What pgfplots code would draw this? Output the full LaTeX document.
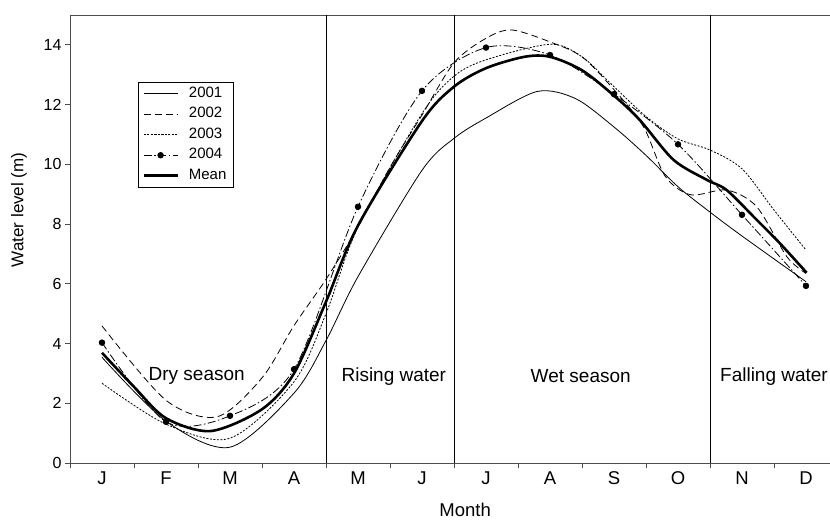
\documentclass[border=0pt]{standalone}
\usepackage{fontspec}
\setmainfont{Liberation Sans}
\usepackage{pgfplots}
\pgfplotsset{compat=1.18}
\usepackage{pgfplotstable}

% water level (m), x = month (0 = start of January)
\pgfplotstableread{
x y
0.5 3.54
1.5 1.40
2.5 0.53
3.5 2.34
4.0 4.10
4.5 6.24
5.5 9.80
6.0 10.87
6.5 11.55
7.3 12.44
7.9 12.20
8.5 11.25
9.0 10.30
9.5 9.25
10.0 8.40
10.5 7.60
11.5 6.07
}\yra
\pgfplotstableread{
x y
0.5 4.59
1.5 2.10
2.3 1.55
3.0 2.85
3.5 4.60
4.0 6.15
4.5 7.90
5.0 9.90
5.5 11.65
6.0 13.40
6.5 14.22
6.9 14.50
7.5 14.10
8.0 13.60
8.5 12.50
8.96 11.26
9.3 9.60
9.7 8.98
10.26 9.14
10.73 8.58
11.2 6.91
11.5 6.35
}\yrb
\pgfplotstableread{
x y
0.5 2.67
1.5 1.30
2.5 0.83
3.5 2.72
4.0 5.00
4.5 7.90
5.5 11.70
6.0 12.95
6.5 13.50
7.5 14.02
8.0 13.60
8.5 12.60
9.0 11.60
9.5 10.85
10.0 10.48
10.5 9.85
11.0 8.47
11.5 7.13
}\yrc
\pgfplotstableread{
x y
0.5 4.03
1.5 1.38
2.5 1.58
3.5 3.14
4.5 8.58
5.5 12.46
6.5 13.91
7.5 13.66
8.5 12.35
9.5 10.67
10.5 8.31
11.5 5.93
}\yrd
\pgfplotstableread{
x y
0.5 3.69
1.0 2.55
1.5 1.50
2.2 1.07
3.0 1.80
3.5 3.00
4.0 5.40
4.5 7.95
5.5 11.45
6.0 12.60
6.5 13.22
7.1 13.60
7.5 13.60
8.0 13.15
8.5 12.30
8.9 11.49
9.43 10.15
9.95 9.48
10.26 9.14
10.73 8.14
11.09 7.36
11.51 6.37
}\mean

\begin{document}
\begin{tikzpicture}
\useasboundingbox (-70pt,-60pt) rectangle (760pt,463pt);
\begin{axis}[
    scale only axis,
    width=760pt, height=448pt,
    xmin=0, xmax=11.875,
    ymin=0, ymax=15,
    axis y line*=left,
    axis line style={black!70, line width=0.8pt},
    tick align=outside,
    xtick pos=left, ytick pos=left,
    xtick={0.5,1.5,...,11.5},
    xticklabels={J,F,M,A,M,J,J,A,S,O,N,D},
    minor xtick={0,1,...,12},
    major x tick style={draw=none},
    minor tick length=5pt, major tick length=5pt,
    tick style={black!70, line width=0.8pt},
    ytick={0,2,...,14},
    /pgf/number format/assume math mode=true,
    yticklabel style={font=\fontsize{16}{19}\selectfont},
    xticklabel style={font=\fontsize{18.5}{22}\selectfont},
    xlabel={Month},
    ylabel={Water level (m)},
    every axis x label/.style={at={(axis description cs:0.52,0)}, anchor=center, yshift=-47pt, font=\fontsize{18.5}{22}\selectfont},
    every axis y label/.style={at={(axis description cs:-0.067,0.565)}, rotate=90, anchor=center, font=\fontsize{17}{20}\selectfont},
    legend style={at={(axis description cs:0.0895,0.850)}, anchor=north west,
        draw=black, line width=0.6pt, fill=white, font=\fontsize{15}{17}\selectfont,
        inner xsep=4pt, inner ysep=1.5pt, row sep=1.0pt, column sep=7pt,
        nodes={inner sep=3pt, text height=10.5pt, text depth=3pt}},
    legend cell align=left,
    legend image code/.code={\draw[mark repeat=2, mark phase=2, #1] plot coordinates {(0pt,0pt) (17pt,0pt) (34pt,0pt)};},
]
\addplot[black, line width=0.8pt, smooth] table[x=x,y=y] {\yra};
\addplot[black, line width=0.8pt, smooth, dash pattern=on 7pt off 4pt] table[x=x,y=y] {\yrb};
\addplot[black, line width=0.8pt, smooth, dash pattern=on 2pt off 1.5pt] table[x=x,y=y] {\yrc};
\addplot[black, line width=0.8pt, smooth, dash pattern=on 8pt off 2.5pt on 1.5pt off 2.5pt,
    mark=*, mark size=2.8pt, mark options={solid}] table[x=x,y=y] {\yrd};
\addplot[black, line width=2.6pt, smooth] table[x=x,y=y] {\mean};
\legend{2001,2002,2003,2004,Mean}

\addplot[black, line width=0.8pt, forget plot] coordinates {(4,0) (4,15)};
\addplot[black, line width=0.6pt, forget plot] coordinates {(6,0) (6,15)};
\addplot[black, line width=0.8pt, forget plot] coordinates {(10,0) (10,15)};

\node[font=\fontsize{19}{22}\selectfont] at (axis cs:1.98,2.91) {Dry season};
\node[font=\fontsize{19}{22}\selectfont] at (axis cs:5.06,2.91) {Rising water};
\node[font=\fontsize{19}{22}\selectfont] at (axis cs:7.98,2.91) {Wet season};
\node[font=\fontsize{19}{22}\selectfont] at (axis cs:11.0,2.91) {Falling water};
\end{axis}
\end{tikzpicture}
\end{document}
